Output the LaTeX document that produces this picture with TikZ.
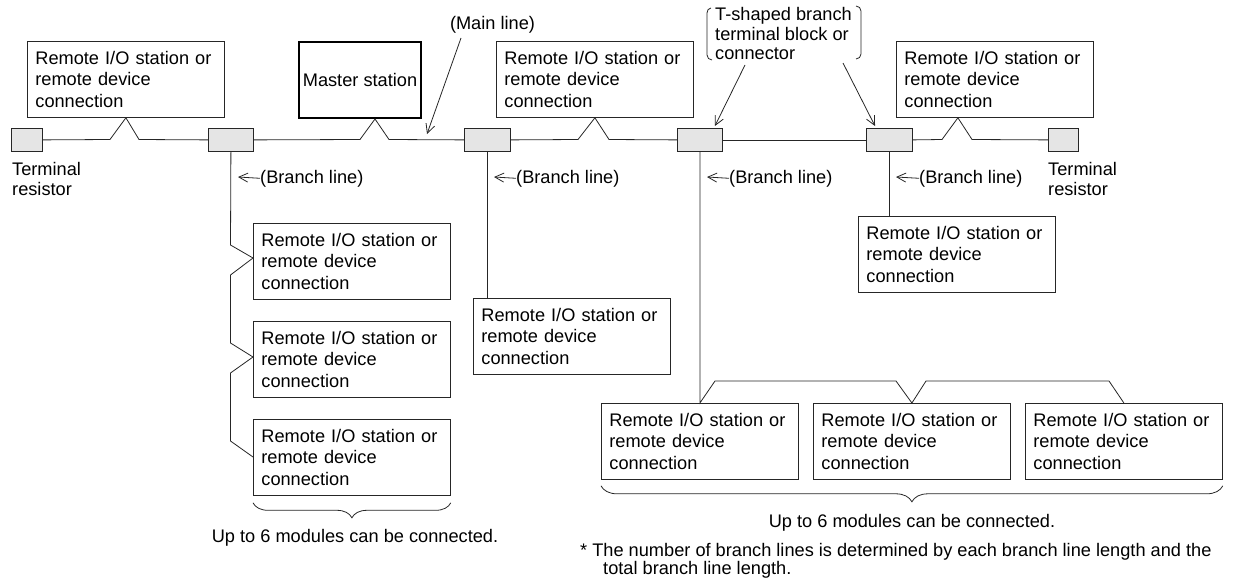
\documentclass[tikz,border=0pt]{standalone}
\usepackage{fontspec}
\setmainfont{Liberation Sans}
\usetikzlibrary{arrows.meta,decorations.pathreplacing,calc}
\begin{document}
\begin{tikzpicture}[x=1pt,y=-1pt,
  ln/.style={draw=black!85, line width=0.8pt},
  arr/.style={ln, -{Straight Barb[length=9pt,width=9pt]}},
  rbox/.style={draw=black!85, line width=0.8pt, fill=white, anchor=north west,
    minimum width=197pt, minimum height=76pt, text width=181pt,
    inner xsep=8pt, inner ysep=0pt, align=left,
    font=\fontsize{18.2}{21.5}\selectfont},
  mbox/.style={draw=black, line width=2pt, anchor=north west,
    minimum width=122pt, minimum height=76pt, inner sep=0pt,
    font=\fontsize{18.2}{21.5}\selectfont},
  conn/.style={draw=black!85, line width=0.8pt, fill=black!10, anchor=north west,
    minimum height=23pt, inner sep=0pt},
  lbl/.style={inner sep=0pt, font=\fontsize{18.2}{19.3}\selectfont, align=left},
  brc/.style={ln, decorate},
]
\useasboundingbox (0,0) rectangle (1233,583);

% terminal resistors and branch connectors
\node[conn, minimum width=31pt] (tr1) at (11,128) {};
\node[conn, minimum width=45pt] (c1) at (208,128) {};
\node[conn, minimum width=46pt] (c2) at (464,128) {};
\node[conn, minimum width=45pt] (c3) at (677,128) {};
\node[conn, minimum width=46pt] (c4) at (866,128) {};
\node[conn, minimum width=30pt] (tr2) at (1048,128) {};

% stations on main line
\node[rbox] (t1) at (27,41) {Remote I/O station or\\remote device\\connection};
\node[mbox] (ms) at (298,41) {Master station};
\node[rbox] (t2) at (496,41) {Remote I/O station or\\remote device\\connection};
\node[rbox] (t3) at (896,41) {Remote I/O station or\\remote device\\connection};

% branch stations
\node[rbox] (a1) at (253,223) {Remote I/O station or\\remote device\\connection};
\node[rbox] (a2) at (253,321) {Remote I/O station or\\remote device\\connection};
\node[rbox] (a3) at (253,419) {Remote I/O station or\\remote device\\connection};
\node[rbox] (b2) at (473,298) {Remote I/O station or\\remote device\\connection};
\node[rbox] (b4) at (858,216) {Remote I/O station or\\remote device\\connection};
\node[rbox] (d1) at (601,403) {Remote I/O station or\\remote device\\connection};
\node[rbox] (d2) at (813,403) {Remote I/O station or\\remote device\\connection};
\node[rbox] (d3) at (1025,403) {Remote I/O station or\\remote device\\connection};

% main line
\draw[ln] (tr1.east) -- (110,139.5) -- (t1.south) -- (139,139.5) -- (c1.west);
\draw[ln] (c1.east) -- (360,139.5) -- ($(ms.south)+(15,0)$) -- (389,139.5) -- (c2.west);
\draw[ln] (c2.east) -- (578,139.5) -- (t2.south) -- (609,139.5) -- (c3.west);
\draw[ln] (c3.east) -- (c4.west);
\draw[ln] (c4.east) -- (942,139.5) -- ($(t3.south)+(-37,0)$) -- (972,139.5) -- (tr2.west);

% branch lines
\draw[ln] (c1.south) -- (230.5,245) -- ($(a1.north west)+(0,35)$) -- (230.5,275)
  -- (230.5,343) -- ($(a2.north west)+(0,36)$) -- (230.5,373)
  -- (230.5,441) -- ($(a3.north west)+(0,38)$);
\draw[ln] (c2.south) -- (c2.south |- b2.north);
\draw[ln] (c3.south) -- (d1.north) -- (715,381) -- (896,381) -- (d2.north)
  -- (926,381) -- (1109,381) -- (d3.north);
\draw[ln] (c4.south) -- (c4.south |- b4.north);

% branch line labels
\node[lbl, anchor=base west] (bl1) at (260,183) {(Branch line)};
\node[lbl, anchor=base west] (bl2) at (516,183) {(Branch line)};
\node[lbl, anchor=base west] (bl3) at (729,183) {(Branch line)};
\node[lbl, anchor=base west] (bl4) at (919,183) {(Branch line)};
\coordinate (p1) at (238,177);
\coordinate (p2) at (494,177);
\coordinate (p3) at (707,177);
\coordinate (p4) at (896,177);
\draw[arr] (bl1.west) -- (p1);
\draw[arr] (bl2.west) -- (p2);
\draw[arr] (bl3.west) -- (p3);
\draw[arr] (bl4.west) -- (p4);

% terminal resistor labels
\node[lbl, anchor=north west] (trl1) at (12,162.5) {Terminal\\resistor};
\node[lbl, anchor=north west] (trl2) at (1048,162.5) {Terminal\\resistor};

% main line label
\node[lbl, anchor=base] (mll) at (492.5,30) {(Main line)};
\coordinate (mtip) at (427,134);
\draw[arr] (461,38) -- (mtip);

% T-shaped branch label
\node[lbl, anchor=north west] (tsl) at (715,7.5) {T-shaped branch\\terminal block or\\connector};
\draw[ln] (711,8) to[out=180,in=90] (707,13) -- (707,55) to[out=-90,in=180] (712,60);
\draw[ln] (856,6) to[out=0,in=90] (861,11) -- (861,54) to[out=-90,in=0] (856,59);
\draw[arr] (745,65) -- ($(c3.north)+(15,-2)$);
\draw[arr] (843,63) -- ($(c4.north west)+(9,-2)$);

% braces
\draw[brc, decoration={brace, mirror, amplitude=15pt}] ($(a3.south west)+(0,7)$) -- ($(a3.south east)+(0,7)$);
\node[lbl, anchor=base] (up1) at (355,542) {Up to 6 modules can be connected.};
\draw[brc, decoration={brace, mirror, amplitude=16pt}] ($(d1.south west)+(0,6)$) -- ($(d3.south east)+(0,6)$);
\node[lbl, anchor=base] (up2) at (912,527) {Up to 6 modules can be connected.};

% footnote
\node[inner sep=0pt, anchor=north west, align=left, font=\fontsize{18.2}{17.5}\selectfont] (fn) at (580,543.5)
  {* The number of branch lines is determined by each branch line length and the\\\hspace*{23pt}total branch line length.};
\end{tikzpicture}
\end{document}
